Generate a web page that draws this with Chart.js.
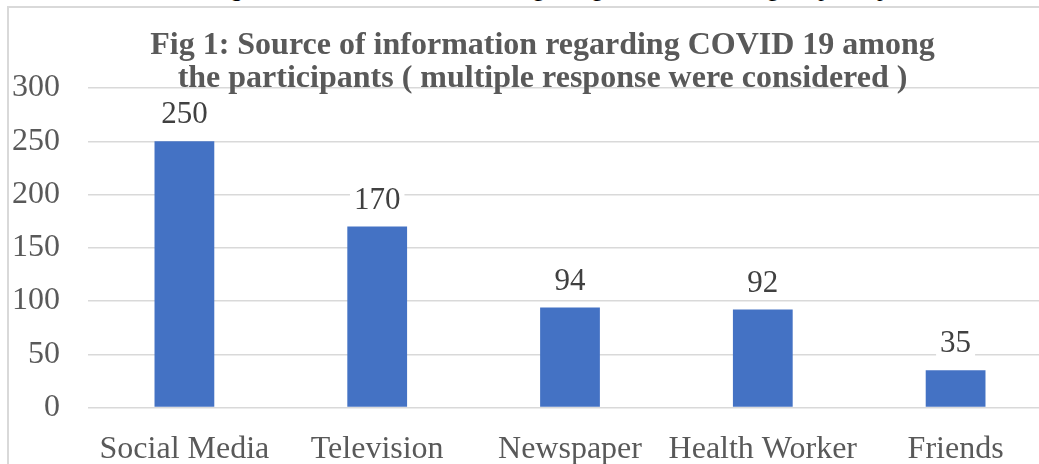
<!DOCTYPE html>
<html>
<head>
<meta charset="utf-8">
<script src="https://cdn.jsdelivr.net/npm/chart.js@4.4.1/dist/chart.umd.min.js"></script>
<style>
  html, body { margin: 0; padding: 0; background: #fff; overflow: hidden; width: 1039px; height: 464px; }
  #caption {
    position: absolute; left: 0; width: 1136px; top: -23px; text-align: center;
    font-family: "Liberation Serif", "Times New Roman", serif; font-size: 23px; line-height: 24px; color: #000;
    white-space: nowrap;
  }
  #frame {
    position: absolute; left: 7px; top: 6px; width: 1100px; height: 500px;
    border: 2px solid #d9d9d9; box-sizing: border-box;
  }
  #wrap { position: absolute; left: 9px; top: 8px; width: 1043px; height: 484px; }
</style>
</head>
<body>
<div id="caption"><b>Figure 1:</b> Source of information regarding COVID 19 among the participants</div>
<div id="frame"></div>
<div id="wrap"><canvas id="chart" width="1043" height="484"></canvas></div>
<script>
var categories = ["Social Media", "Television", "Newspaper", "Health Worker", "Friends"];
var responses = [250, 170, 94, 92, 35];
var yTicks = [0, 50, 100, 150, 200, 250, 300];
var titleLines = [
  "Fig 1: Source of information regarding COVID 19 among",
  "the participants ( multiple response were considered )"
];

var serif = "'Liberation Serif', 'Times New Roman', serif";

// nudge the title a bit right, like the original
var titleShift = {
  id: "titleShift",
  afterLayout: function (chart) {
    if (chart.titleBlock) chart.titleBlock.left += 24;
  }
};

// value labels above bars, with a white box that hides the gridline behind
var barLabels = {
  id: "barLabels",
  afterDatasetsDraw: function (chart) {
    var ctx = chart.ctx;
    var meta = chart.getDatasetMeta(0);
    ctx.save();
    ctx.font = "31px " + serif;
    ctx.textAlign = "center";
    ctx.textBaseline = "middle";
    meta.data.forEach(function (bar, i) {
      var txt = String(responses[i]);
      var w = ctx.measureText(txt).width;
      var y = bar.y - 27;
      ctx.fillStyle = "#fff";
      ctx.fillRect(bar.x - w / 2 - 4, y - 15, w + 8, 30);
      ctx.fillStyle = "#404040";
      ctx.fillText(txt, bar.x, y + 1);
    });
    ctx.restore();
  }
};

new Chart(document.getElementById("chart"), {
  type: "bar",
  data: {
    labels: categories,
    datasets: [{
      data: responses,
      backgroundColor: "#4472C4",
      barPercentage: 0.31,
      categoryPercentage: 1.0
    }]
  },
  options: {
    responsive: false,
    animation: false,
    layout: { padding: 0 },
    plugins: {
      legend: { display: false },
      tooltip: { enabled: false },
      title: {
        display: true,
        text: titleLines,
        color: "#595959",
        font: { family: serif, size: 32, weight: "bold", lineHeight: 33 / 32 },
        padding: { top: 21, bottom: -7 }
      }
    },
    scales: {
      x: {
        grid: { display: false, drawTicks: false },
        border: { display: false },
        ticks: { color: "#595959", padding: 23, font: { family: serif, size: 32 }, maxRotation: 0, autoSkip: false }
      },
      y: {
        min: 0,
        max: 300,
        afterFit: function (scale) { scale.width = 79; },
        afterBuildTicks: function (scale) {
          scale.ticks = yTicks.map(function (v) { return { value: v }; });
        },
        grid: { color: "#d9d9d9", lineWidth: 1.5, drawTicks: false },
        border: { display: false },
        ticks: { color: "#595959", padding: 28, font: { family: serif, size: 32 } }
      }
    }
  },
  plugins: [titleShift, barLabels]
});
</script>
</body>
</html>
